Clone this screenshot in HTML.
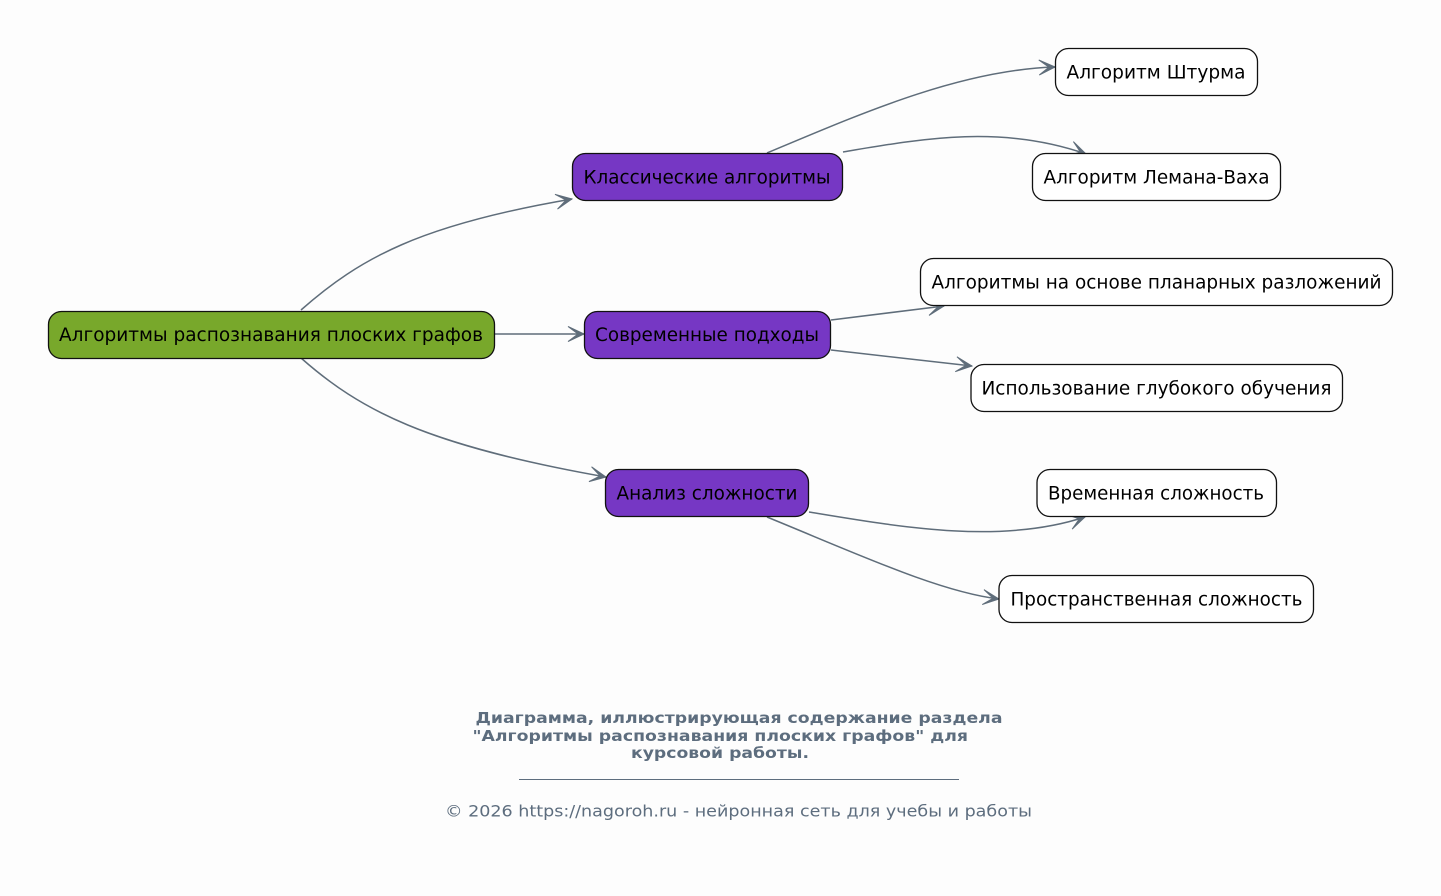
<!DOCTYPE html>
<html>
<head>
<meta charset="utf-8">
<style>
  html, body { margin:0; padding:0; background:#fdfdfd; }
  body { width:1441px; height:896px; overflow:hidden; }
  svg { display:block; }
  .n { font-family:"DejaVu Sans","Liberation Sans",sans-serif; font-size:19px; fill:#000; }
  .cap { font-family:"DejaVu Sans","Liberation Sans",sans-serif; font-size:15px; font-weight:bold; fill:#5d6d7e; }
  .ft { font-family:"DejaVu Sans","Liberation Sans",sans-serif; font-size:16px; fill:#5d6d7e; }
  .e { fill:none; stroke:#5f6d7a; stroke-width:1.5; }
  .b { stroke:#111; stroke-width:1.3; }
</style>
</head>
<body>
<svg width="1441" height="896" viewBox="0 0 1441 896" xmlns="http://www.w3.org/2000/svg">
  <defs>
    <marker id="ah" markerUnits="userSpaceOnUse" markerWidth="24" markerHeight="24" refX="18" refY="9" orient="auto" viewBox="0 0 24 18">
      <path d="M18,9 L2,1.5 L12,9 L2,16.5 Z" fill="#5f6d7a" stroke="#5f6d7a" stroke-width="1" stroke-linejoin="miter"/>
    </marker>
  </defs>
  <rect x="0" y="0" width="1441" height="896" fill="#fdfdfd"/>

  <!-- edges -->
  <path class="e" d="M301,310 C360,258 420,225 572,199" marker-end="url(#ah)"/>
  <path class="e" d="M495,334 L584,334" marker-end="url(#ah)"/>
  <path class="e" d="M301,358 C360,410 425,445 606,477" marker-end="url(#ah)"/>

  <path class="e" d="M767,153 C860,114 960,70 1055,67" marker-end="url(#ah)"/>
  <path class="e" d="M843,152 C920,139 1000,124 1086,154" marker-end="url(#ah)"/>

  <path class="e" d="M831,320 L944,306" marker-end="url(#ah)"/>
  <path class="e" d="M831,350 L972,366" marker-end="url(#ah)"/>

  <path class="e" d="M809,512 C900,527 1000,545 1085,517" marker-end="url(#ah)"/>
  <path class="e" d="M767,517 C860,555 940,592 999,599" marker-end="url(#ah)"/>

  <!-- root -->
  <rect class="b" x="48.5" y="311.5" width="446" height="47" rx="13" ry="13" fill="#78a82b"/>
  <text class="n" x="59" y="341" textLength="424" lengthAdjust="spacingAndGlyphs">Алгоритмы распознавания плоских графов</text>

  <!-- level 1 -->
  <rect class="b" x="572.5" y="153.5" width="270" height="47" rx="13" ry="13" fill="#7637c4"/>
  <text class="n" x="583.5" y="183.5" textLength="247" lengthAdjust="spacingAndGlyphs">Классические алгоритмы</text>

  <rect class="b" x="584.5" y="311.5" width="246" height="47" rx="13" ry="13" fill="#7637c4"/>
  <text class="n" x="595" y="341" textLength="224" lengthAdjust="spacingAndGlyphs">Современные подходы</text>

  <rect class="b" x="605.5" y="469.5" width="203" height="47" rx="13" ry="13" fill="#7637c4"/>
  <text class="n" x="616.5" y="499.5" textLength="181" lengthAdjust="spacingAndGlyphs">Анализ сложности</text>

  <!-- leaves -->
  <rect class="b" x="1055.5" y="48.5" width="202" height="47" rx="13" ry="13" fill="#ffffff"/>
  <text class="n" x="1066.5" y="78.5" textLength="179" lengthAdjust="spacingAndGlyphs">Алгоритм Штурма</text>

  <rect class="b" x="1032.5" y="153.5" width="248" height="47" rx="13" ry="13" fill="#ffffff"/>
  <text class="n" x="1043.5" y="183.5" textLength="226" lengthAdjust="spacingAndGlyphs">Алгоритм Лемана-Ваха</text>

  <rect class="b" x="920.5" y="258.5" width="472" height="47" rx="13" ry="13" fill="#ffffff"/>
  <text class="n" x="931.5" y="288.5" textLength="450" lengthAdjust="spacingAndGlyphs">Алгоритмы на основе планарных разложений</text>

  <rect class="b" x="971" y="364.5" width="371.5" height="47" rx="13" ry="13" fill="#ffffff"/>
  <text class="n" x="981.5" y="394.5" textLength="350" lengthAdjust="spacingAndGlyphs">Использование глубокого обучения</text>

  <rect class="b" x="1037" y="469.5" width="239.5" height="47" rx="13" ry="13" fill="#ffffff"/>
  <text class="n" x="1048" y="499.5" textLength="216" lengthAdjust="spacingAndGlyphs">Временная сложность</text>

  <rect class="b" x="999" y="575.5" width="314.5" height="47" rx="13" ry="13" fill="#ffffff"/>
  <text class="n" x="1010.5" y="605.5" textLength="292" lengthAdjust="spacingAndGlyphs">Пространственная сложность</text>

  <!-- caption -->
  <text class="cap" x="475.5" y="723" textLength="527" lengthAdjust="spacingAndGlyphs">Диаграмма, иллюстрирующая содержание раздела</text>
  <text class="cap" x="472.5" y="741" textLength="495.5" lengthAdjust="spacingAndGlyphs">"Алгоритмы распознавания плоских графов" для</text>
  <text class="cap" x="631" y="758" textLength="178" lengthAdjust="spacingAndGlyphs">курсовой работы.</text>

  <line x1="519" y1="779.5" x2="959" y2="779.5" stroke="#5d6d7e" stroke-width="1"/>

  <text class="ft" x="445" y="816.5" textLength="587" lengthAdjust="spacingAndGlyphs">© 2026 https://nagoroh.ru - нейронная сеть для учебы и работы</text>
</svg>
</body>
</html>
